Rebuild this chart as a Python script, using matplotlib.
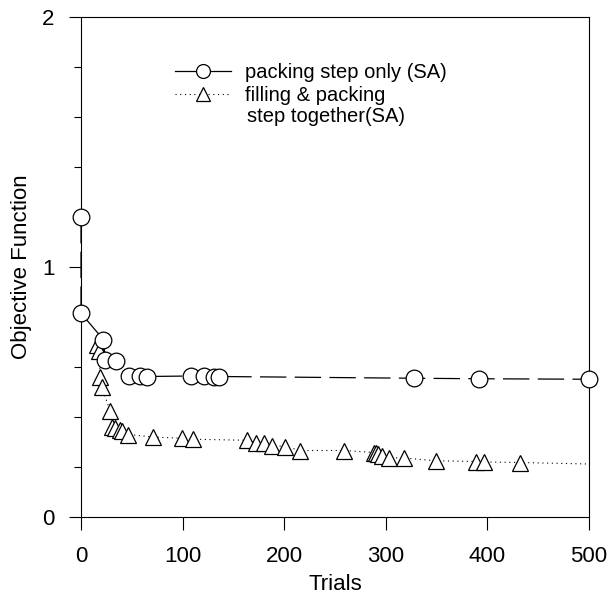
import matplotlib
matplotlib.use("Agg")
import matplotlib.pyplot as plt
from matplotlib.ticker import MultipleLocator

plt.rcParams["font.family"] = ["Liberation Sans", "DejaVu Sans"]
plt.rcParams["lines.scale_dashes"] = False

# packing step only (SA)
trials_pack = [0, 0, 22, 24, 34, 47, 58, 65, 108, 121, 131, 136, 328, 392, 500]
obj_pack = [1.2, 0.815, 0.71, 0.63, 0.625, 0.564, 0.564, 0.562, 0.564, 0.564,
            0.562, 0.562, 0.555, 0.553, 0.551]

# filling & packing step together (SA); last point is the line end only
trials_fill = [15.5, 18, 18.7, 20.4, 28.6, 30.5, 33, 38, 40, 46.7, 70.4, 99.3,
               110, 163.4, 172, 180, 188, 201, 216, 259, 288, 290, 292, 296,
               303, 318, 349, 389, 397, 432, 500]
obj_fill = [0.69, 0.665, 0.56, 0.52, 0.425, 0.36, 0.355, 0.35, 0.345, 0.33,
            0.32, 0.315, 0.311, 0.307, 0.298, 0.297, 0.286, 0.282, 0.266,
            0.266, 0.258, 0.255, 0.252, 0.245, 0.237, 0.236, 0.225, 0.222,
            0.22, 0.218, 0.212]

fig = plt.figure(figsize=(6.11, 6.01), dpi=100)
ax = fig.add_axes([81 / 611, 1 - 517 / 601, 508 / 611, 500 / 601])

ax.plot(trials_pack, obj_pack, color="black", lw=0.9, dashes=(19, 6),
        marker="o", ms=12, mfc="white", mec="black", mew=0.9, zorder=3,
        clip_on=False)
ax.plot(trials_fill, obj_fill, color="black", lw=0.8, dashes=(0.8, 2.6),
        marker="^", ms=11, mfc="white", mec="black", mew=0.9,
        markevery=slice(0, -1), zorder=2, clip_on=False)

ax.set_xlim(0, 500)
ax.set_ylim(0, 2)
ax.xaxis.set_major_locator(MultipleLocator(100))
ax.yaxis.set_major_locator(MultipleLocator(1))
ax.yaxis.set_minor_locator(MultipleLocator(0.2))
ax.tick_params(axis="both", which="major", direction="out", length=9,
               width=0.8, labelsize=16)
ax.tick_params(axis="x", pad=12)
ax.tick_params(axis="y", pad=10)
ax.tick_params(axis="y", which="minor", direction="out", length=5, width=0.8)
for s in ax.spines.values():
    s.set_linewidth(0.8)

ax.set_xlabel("Trials", fontsize=16, labelpad=5)
ax.set_ylabel("Objective Function", fontsize=16, labelpad=7)

h_pack = plt.Line2D([], [], color="black", lw=0.9, marker="o", ms=10,
                    mfc="white", mec="black", mew=0.9)
h_fill = plt.Line2D([], [], color="black", lw=0.8, dashes=(0.8, 2.6),
                    marker="^", ms=10, mfc="white", mec="black", mew=0.9)
fig.legend([h_pack, h_fill], ["packing step only (SA)", "filling & packing"],
           loc="upper left", bbox_to_anchor=(175 / 611, 1 - 63 / 601),
           frameon=False, fontsize=14.5, handlelength=2.8, handletextpad=0.7,
           labelspacing=0.2, borderpad=0, borderaxespad=0)
fig.text(247 / 611, 1 - 116 / 601, "step together(SA)", fontsize=14.5,
         va="center", ha="left")

fig.savefig("out.png", dpi=100)
